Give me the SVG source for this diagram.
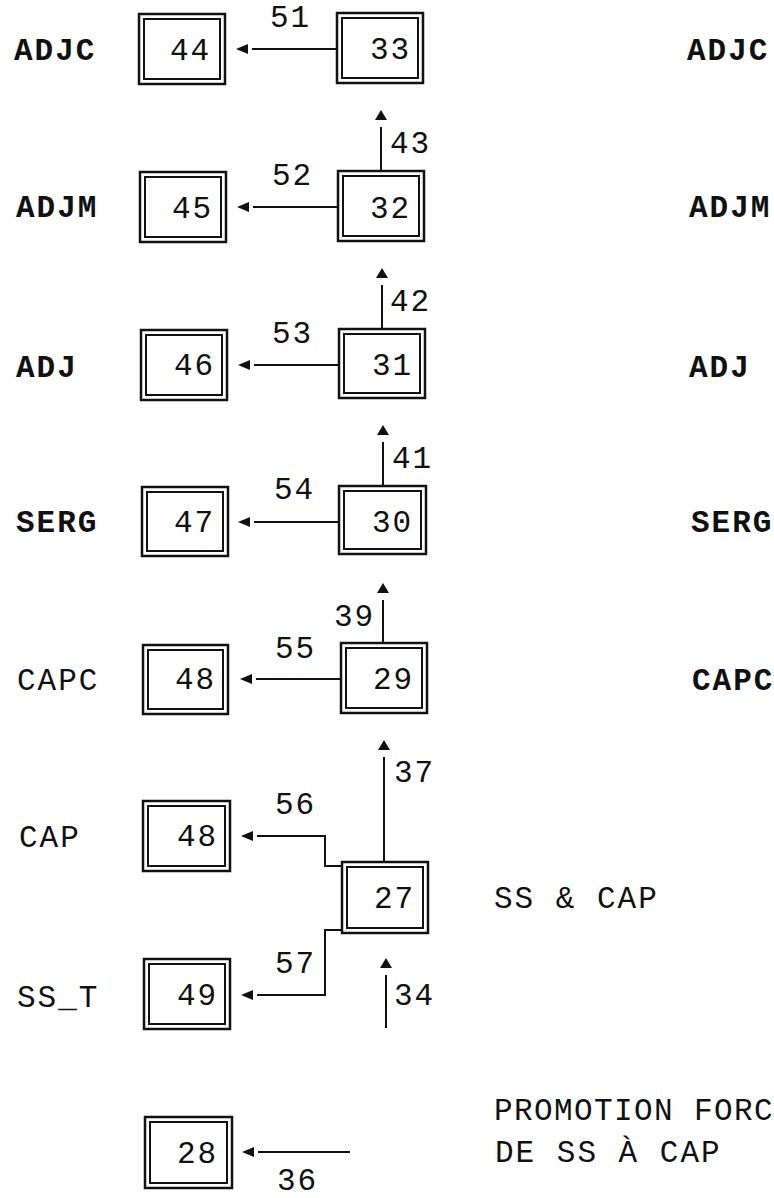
<svg xmlns="http://www.w3.org/2000/svg" width="774" height="1198" viewBox="0 0 774 1198">
<style>
text{font-family:"Liberation Mono","DejaVu Sans Mono",monospace;font-size:31px;letter-spacing:2px;fill:#111}
.b{font-weight:bold}
.o{fill:#fff;stroke:#111;stroke-width:2.5}
.i{fill:none;stroke:#111;stroke-width:2}
.c{fill:none;stroke:#111;stroke-width:2}
</style>
<defs>
<marker id="ah" markerUnits="userSpaceOnUse" markerWidth="20" markerHeight="12" refX="0" refY="6" orient="auto" overflow="visible"><path d="M4,1 L16,6 L4,11 z" fill="#111"/></marker>
<marker id="av" markerUnits="userSpaceOnUse" markerWidth="20" markerHeight="14" refX="0" refY="7" orient="auto" overflow="visible"><path d="M7,1 L17,7 L7,13 z" fill="#111"/></marker>
</defs>
<g id="labels">
<text x="14" y="60" class="b">ADJC</text>
<text x="16" y="217" class="b">ADJM</text>
<text x="16" y="377" class="b">ADJ</text>
<text x="16" y="532" class="b">SERG</text>
<text x="17" y="690">CAPC</text>
<text x="19" y="847">CAP</text>
<text x="17" y="1007">SS_T</text>
<text x="687" y="60" class="b">ADJC</text>
<text x="689" y="217" class="b">ADJM</text>
<text x="689" y="377" class="b">ADJ</text>
<text x="691" y="532" class="b">SERG</text>
<text x="692" y="690" class="b">CAPC</text>
<text x="494" y="908">SS &amp; CAP</text>
<text x="494" y="1120" style="letter-spacing:1.4px">PROMOTION FORC</text>
<text x="495" y="1162">DE SS À CAP</text>
</g>
<g id="node44"><rect class="o" x="139" y="14" width="86" height="70"/><rect class="i" x="144" y="19" width="76" height="60"/><text x="170" y="60">44</text></g>
<g id="node33"><rect class="o" x="337" y="13" width="86" height="70"/><rect class="i" x="342" y="18" width="76" height="60"/><text x="370" y="59">33</text></g>
<g id="node45"><rect class="o" x="140" y="172" width="86" height="70"/><rect class="i" x="145" y="177" width="76" height="60"/><text x="172" y="218">45</text></g>
<g id="node32"><rect class="o" x="338" y="171" width="86" height="70"/><rect class="i" x="343" y="176" width="76" height="60"/><text x="370" y="218">32</text></g>
<g id="node46"><rect class="o" x="141" y="330" width="86" height="70"/><rect class="i" x="146" y="335" width="76" height="60"/><text x="174" y="375">46</text></g>
<g id="node31"><rect class="o" x="339" y="329" width="86" height="69"/><rect class="i" x="344" y="334" width="76" height="59"/><text x="372" y="375">31</text></g>
<g id="node47"><rect class="o" x="142" y="487" width="86" height="69"/><rect class="i" x="147" y="492" width="76" height="59"/><text x="174" y="532">47</text></g>
<g id="node30"><rect class="o" x="339" y="486" width="87" height="68"/><rect class="i" x="344" y="491" width="77" height="58"/><text x="372" y="532">30</text></g>
<g id="node48a"><rect class="o" x="143" y="645" width="85" height="69"/><rect class="i" x="148" y="650" width="75" height="59"/><text x="175" y="689">48</text></g>
<g id="node29"><rect class="o" x="341" y="643" width="86" height="70"/><rect class="i" x="346" y="648" width="76" height="60"/><text x="373" y="689">29</text></g>
<g id="node48b"><rect class="o" x="143" y="801" width="87" height="70"/><rect class="i" x="148" y="806" width="77" height="60"/><text x="177" y="846">48</text></g>
<g id="node27"><rect class="o" x="342" y="862" width="86" height="71"/><rect class="i" x="347" y="867" width="76" height="61"/><text x="374" y="908">27</text></g>
<g id="node49"><rect class="o" x="144" y="959" width="86" height="70"/><rect class="i" x="149" y="964" width="76" height="60"/><text x="177" y="1005">49</text></g>
<g id="node28"><rect class="o" x="145" y="1117" width="87" height="71"/><rect class="i" x="150" y="1122" width="77" height="61"/><text x="177" y="1163">28</text></g>
<g id="connectors">
<path class="c" d="M337,49 H252" marker-end="url(#ah)"/>
<path class="c" d="M338,207 H253" marker-end="url(#ah)"/>
<path class="c" d="M339,365 H254" marker-end="url(#ah)"/>
<path class="c" d="M339,522 H254" marker-end="url(#ah)"/>
<path class="c" d="M341,679 H256" marker-end="url(#ah)"/>
<path class="c" d="M342,866 H325 V836 H257" marker-end="url(#ah)"/>
<path class="c" d="M342,930 H325 V995 H257" marker-end="url(#ah)"/>
<path class="c" d="M350,1152 H258" marker-end="url(#ah)"/>
<path class="c" d="M381,171 V127" marker-end="url(#av)"/>
<path class="c" d="M382,329 V285" marker-end="url(#av)"/>
<path class="c" d="M383,486 V442" marker-end="url(#av)"/>
<path class="c" d="M383,643 V600" marker-end="url(#av)"/>
<path class="c" d="M384,862 V757" marker-end="url(#av)"/>
<path class="c" d="M386,1028 V975" marker-end="url(#av)"/>
<text x="270" y="27">51</text>
<text x="272" y="185">52</text>
<text x="272" y="343">53</text>
<text x="274" y="499">54</text>
<text x="275" y="658">55</text>
<text x="275" y="814">56</text>
<text x="275" y="973">57</text>
<text x="277" y="1190">36</text>
<text x="390" y="153">43</text>
<text x="390" y="311">42</text>
<text x="392" y="468">41</text>
<text x="334" y="626">39</text>
<text x="394" y="782">37</text>
<text x="394" y="1005">34</text>
</g>
</svg>
